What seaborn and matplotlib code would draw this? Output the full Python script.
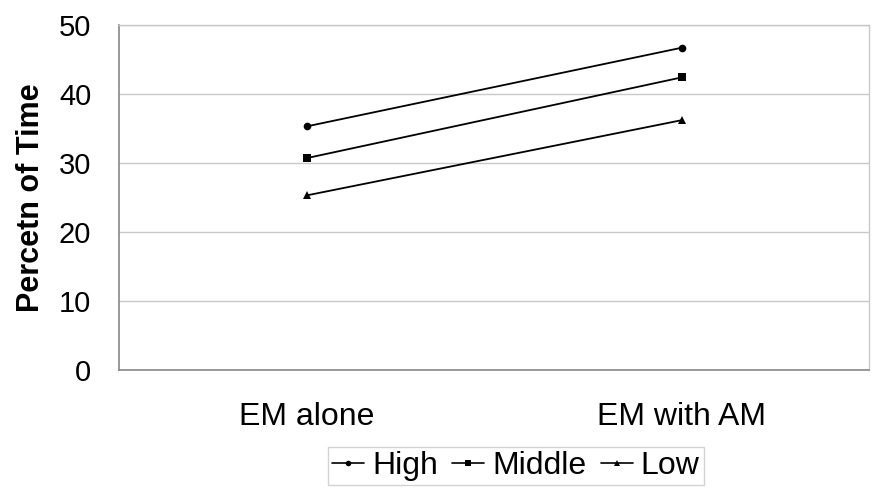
import matplotlib
matplotlib.use("Agg")
import matplotlib.pyplot as plt
import seaborn as sns
import pandas as pd
from matplotlib.ticker import FixedLocator
from matplotlib.lines import Line2D

categories = ["EM alone", "EM with AM"]
groups = ["High", "Middle", "Low"]
high = [35.3, 46.7]
middle = [30.7, 42.4]
low = [25.3, 36.2]
y_ticks = [0, 10, 20, 30, 40, 50]

sns.set_style("white")
plt.rcParams["font.family"] = ["Liberation Sans", "DejaVu Sans"]
plt.rcParams["text.color"] = "black"
plt.rcParams["axes.labelcolor"] = "black"
plt.rcParams["xtick.color"] = "black"
plt.rcParams["ytick.color"] = "black"

rows = []
for g, vals in zip(groups, [high, middle, low]):
    for i, (c, v) in enumerate(zip(categories, vals)):
        rows.append({"pos": i, "Category": c, "Group": g, "Value": v})
df = pd.DataFrame(rows)

fig = plt.figure(figsize=(8.87, 4.93), dpi=100)
ax = fig.add_axes([119/887, 1 - 370/493, (869-119)/887, (370-25)/493])

sns.lineplot(data=df, x="pos", y="Value", hue="Group", style="Group",
             hue_order=groups, style_order=groups,
             palette=["black", "black", "black"],
             markers={"High": "o", "Middle": "s", "Low": "^"},
             dashes=False, markersize=5.5, linewidth=1.3,
             markeredgewidth=0, ax=ax, legend=False)

ax.set_xlim(-0.5, 1.5)
ax.set_ylim(0, 50)
ax.set_yticks(y_ticks)
ax.set_yticklabels([str(t) for t in y_ticks], fontsize=21)
ax.set_xticks([0, 1])
ax.set_xticklabels(categories, fontsize=23)
ax.tick_params(axis="x", which="major", length=0, pad=23)
ax.xaxis.set_minor_locator(FixedLocator([-0.5, 0.5, 1.5]))
ax.tick_params(axis="x", which="minor", length=7, width=1, color="#888888", direction="out")
ax.tick_params(axis="y", which="major", length=7, width=1, color="#888888", direction="out", pad=13)
ax.set_xlabel("")
ax.set_ylabel("Percetn of Time", fontsize=22, fontweight="bold", labelpad=9)

ax.grid(axis="y", color="#c8c8c8", linewidth=1)
ax.set_axisbelow(True)
for s in ["top", "right"]:
    ax.spines[s].set_color("#c8c8c8")
    ax.spines[s].set_linewidth(1)
for s in ["left", "bottom"]:
    ax.spines[s].set_color("#888888")
    ax.spines[s].set_linewidth(1.2)

handles = [Line2D([], [], color="black", marker=m, markersize=4, linewidth=1.2, markeredgewidth=0)
           for m in ["o", "s", "^"]]
leg = fig.legend(handles, groups, loc="center", bbox_to_anchor=(516/887, 1 - 466/493),
                 ncol=3, fontsize=23, frameon=True, fancybox=False,
                 handlelength=1.0, handletextpad=0.25, columnspacing=0.45,
                 borderpad=0.12, borderaxespad=0, edgecolor="#c8c8c8")
leg.get_frame().set_linewidth(1)

fig.savefig("out.png", dpi=100)
